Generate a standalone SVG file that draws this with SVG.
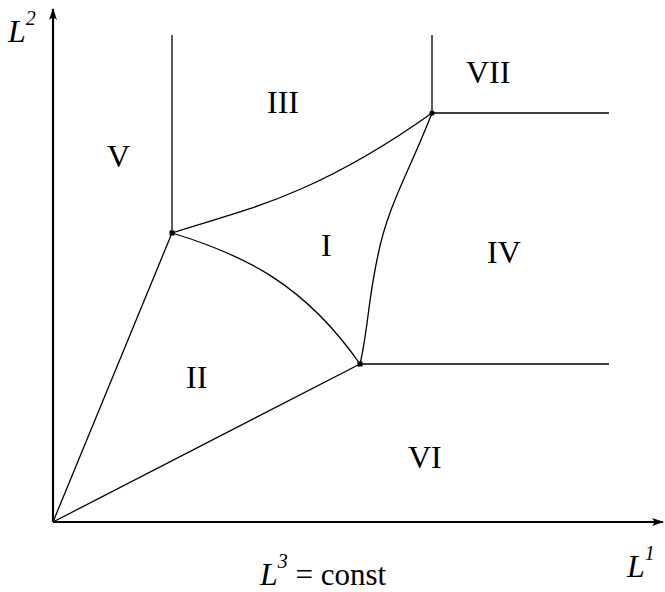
<svg xmlns="http://www.w3.org/2000/svg" width="665" height="592" viewBox="0 0 665 592">
<defs>
<marker id="ah" viewBox="0 0 12 8" refX="11" refY="4" markerWidth="12" markerHeight="8" markerUnits="userSpaceOnUse" orient="auto">
<path d="M0,0 L12,4 L0,8 L3,4 Z" fill="#000"/>
</marker>
<style>
.ax{stroke:#000;stroke-width:2.2;fill:none}
.ln{stroke:#000;stroke-width:1.3;fill:none}
text{font-family:"Liberation Serif","Times New Roman",serif;fill:#000}
.lbl{font-size:32px}
.it{font-style:italic;font-size:32px}
.sup{font-style:italic;font-size:20px}
.pt{fill:#000}
</style>
</defs>
<rect width="665" height="592" fill="#fff"/>
<g id="axes">
<line class="ax" x1="53" y1="522" x2="53" y2="9" marker-end="url(#ah)"/>
<line class="ax" x1="53" y1="522" x2="663" y2="522" marker-end="url(#ah)"/>
</g>
<g id="connectors">
<line class="ln" x1="53" y1="522" x2="172" y2="233"/>
<line class="ln" x1="53" y1="522" x2="360" y2="364"/>
<line class="ln" x1="172" y1="233" x2="172" y2="35"/>
<line class="ln" x1="432" y1="113" x2="432" y2="35"/>
<line class="ln" x1="432" y1="113" x2="609" y2="113"/>
<line class="ln" x1="360" y1="364" x2="609" y2="364"/>
<path class="ln" d="M172,233 C235,212 310,200 432,113"/>
<path class="ln" d="M172,233 C245,255 305,285 360,364"/>
<path class="ln" d="M360,364 C368,330 368,300 378,255 C388,205 410,170 432,113"/>
</g>
<g id="points">
<rect class="pt" x="169.5" y="230.5" width="5" height="5"/>
<rect class="pt" x="357.5" y="361.5" width="5" height="5"/>
<circle class="pt" cx="432" cy="113" r="2.6"/>
</g>
<g id="labels">
<text class="lbl" x="107" y="167">V</text>
<text class="lbl" x="267" y="113">III</text>
<text class="lbl" x="466" y="83">VII</text>
<text class="lbl" x="321" y="256">I</text>
<text class="lbl" x="487" y="263">IV</text>
<text class="lbl" x="186" y="388">II</text>
<text class="lbl" x="408" y="468">VI</text>
<text class="it" x="8" y="42">L<tspan class="sup" dy="-17">2</tspan></text>
<text class="it" x="627" y="577">L<tspan class="sup" dy="-17">1</tspan></text>
<text class="it" x="260" y="585">L<tspan class="sup" dy="-17">3</tspan><tspan dy="17" font-style="normal" font-size="31"> = const</tspan></text>
</g>
</svg>
